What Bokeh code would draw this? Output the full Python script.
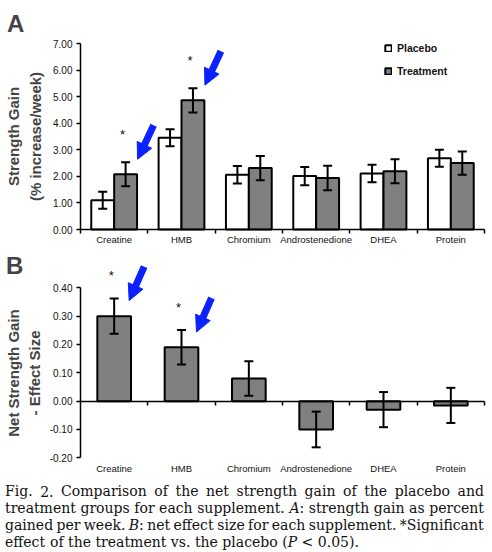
import glob
import os
import re
import struct

import numpy as np
from bokeh.plotting import figure
from bokeh.models import (ColumnDataSource, Range1d, FixedTicker, Whisker, TeeHead,
                          Arrow, NormalHead, Label, Legend, LegendItem, LinearAxis,
                          PrintfTickFormatter)
from bokeh.layouts import column
from bokeh.core.properties import value
from bokeh.embed import file_html
from bokeh.resources import INLINE

# ---------------- data ----------------
supplements = ["Creatine", "HMB", "Chromium", "Androstenedione", "DHEA", "Protein"]
placebo = [1.10, 3.45, 2.06, 2.01, 2.11, 2.68]
placebo_err = [0.32, 0.32, 0.33, 0.34, 0.33, 0.32]
treatment = [2.08, 4.86, 2.31, 1.94, 2.19, 2.50]
treatment_err = [0.45, 0.46, 0.46, 0.46, 0.45, 0.44]
effect_size = [0.30, 0.19, 0.08, -0.10, -0.03, -0.015]
effect_err = [0.062, 0.061, 0.061, 0.063, 0.062, 0.062]
significant = ["Creatine", "HMB"]
yA_ticks = [0, 1, 2, 3, 4, 5, 6, 7]
yB_ticks = [-0.2, -0.1, 0.0, 0.1, 0.2, 0.3, 0.4]
caption_lines = [
    "Fig. 2. Comparison of the net strength gain of the placebo and",
    "treatment groups for each supplement. {A}: strength gain as percent",
    "gained per week. {B}: net effect size for each supplement. *Significant",
    "effect of the treatment vs. the placebo ({P} < 0.05).",
]

# ---------------- style / geometry ----------------
SANS = "Liberation Sans"
SERIF = "DejaVu Serif"
BLUE = "#0b22ff"
GRAY = "#808080"
INK = "#111111"
W, H = 492, 552
A_H = 249
B_H = 475 - A_H
C_H = H - A_H - B_H
PLOT_L, PLOT_R = 80, 484

n = len(supplements)
centers = np.arange(n) + 0.5
bounds = np.arange(n + 1).astype(float)
sig_idx = [supplements.index(s) for s in significant]
xlabels = {float(c): s for c, s in zip(centers, supplements)}


def panel(height, y0, y1, top_px, bot_px):
    kx = n / (PLOT_R - PLOT_L)
    ky = (y1 - y0) / (bot_px - top_px)
    xr = Range1d(-PLOT_L * kx, n + (W - PLOT_R) * kx)
    yr = Range1d(y0 - (height - bot_px) * ky, y1 + top_px * ky)
    p = figure(width=W, height=height, x_range=xr, y_range=yr,
               output_backend="svg", toolbar_location=None, tools="",
               min_border=0, min_border_left=0, min_border_right=0,
               min_border_top=0, min_border_bottom=0,
               x_axis_type=None, y_axis_type=None, frame_align=False)
    p.outline_line_color = None
    p.background_fill_color = "white"
    p.border_fill_color = "white"

    def pos(px, py):
        return (px - PLOT_L) * kx, y0 + (bot_px - py) * ky
    return p, kx, ky, pos


def y_axis(p, ticks):
    ax = LinearAxis(fixed_location=0, bounds=(ticks[0], ticks[-1]),
                    ticker=FixedTicker(ticks=ticks),
                    formatter=PrintfTickFormatter(format="%.2f"),
                    major_label_text_font=SANS, major_label_text_font_size="10px",
                    major_label_text_color=INK, major_tick_out=4, major_tick_in=0,
                    major_tick_line_width=1.5, minor_tick_line_color=None,
                    axis_line_width=1.5, major_label_standoff=4)
    p.add_layout(ax, "left")


def label_axis(p, loc, line=True, minor=True, standoff=6):
    ax = LinearAxis(fixed_location=loc, bounds=(0, n),
                    ticker=FixedTicker(ticks=list(centers),
                                       minor_ticks=list(bounds) if minor else []),
                    major_label_overrides=xlabels,
                    major_label_text_font=SANS, major_label_text_font_size="9.5px",
                    major_label_text_color=INK, major_tick_out=0, major_tick_in=0,
                    minor_tick_out=4, minor_tick_in=0, minor_tick_line_width=1.5,
                    minor_tick_line_color="black" if minor else None,
                    axis_line_width=1.5,
                    axis_line_color="black" if line else None,
                    major_label_standoff=standoff)
    p.add_layout(ax, "below")


def tee():
    return TeeHead(size=9, line_width=2, line_color="black")


# ================= Panel A =================
yA0, yA1 = yA_ticks[0], yA_ticks[-1]
pA, kxA, kyA, a_pos = panel(A_H, yA0, yA1, 43, 229)
bwA = 0.34
pl = np.array(placebo)
ple = np.array(placebo_err)
tr = np.array(treatment)
tre = np.array(treatment_err)
srcA = ColumnDataSource(dict(
    xp=centers - bwA / 2, xt=centers + bwA / 2,
    placebo=pl, treatment=tr,
    p_hi=pl + ple, p_lo=pl - ple, t_hi=tr + tre, t_lo=tr - tre,
))
rP = pA.vbar(x="xp", top="placebo", bottom=0, width=bwA, source=srcA,
             fill_color="white", line_color="black", line_width=2)
rT = pA.vbar(x="xt", top="treatment", bottom=0, width=bwA, source=srcA,
             fill_color=GRAY, line_color="black", line_width=2)
for base, up, lo in (("xp", "p_hi", "p_lo"), ("xt", "t_hi", "t_lo")):
    pA.add_layout(Whisker(base=base, upper=up, lower=lo, source=srcA, level="overlay",
                          line_color="black", line_width=2,
                          upper_head=tee(), lower_head=tee()))
y_axis(pA, yA_ticks)
label_axis(pA, 0, line=True, minor=True, standoff=0)

sx = centers[sig_idx] + bwA / 2
sy = (tr + tre)[sig_idx]
pA.text(x=sx - 3 * kxA, y=sy + 28 * kyA, text=["*"] * len(sig_idx),
        text_font=value(SANS), text_font_size="13px", text_align="center",
        text_baseline="alphabetic", text_color=INK)
for x0, y0 in zip(sx, sy):
    tx, ty = x0 + 12 * kxA, y0 + 3 * kyA
    pA.add_layout(Arrow(x_start=tx + 16 * kxA, y_start=ty + 34 * kyA, x_end=tx, y_end=ty,
                        line_color=BLUE, line_width=7,
                        end=NormalHead(size=16, fill_color=BLUE, line_color=BLUE, line_width=1)))

legend = Legend(items=[LegendItem(label="Placebo", renderers=[rP]),
                       LegendItem(label="Treatment", renderers=[rT])],
                location=(384, A_H - 77), orientation="vertical",
                glyph_width=8, glyph_height=8, label_height=12, label_width=40,
                spacing=11, padding=0, margin=0, label_standoff=5,
                label_text_font=SANS, label_text_font_style="bold",
                label_text_font_size="10.5px", label_text_color=INK,
                border_line_color=None, background_fill_alpha=0)
pA.add_layout(legend, "center")

lx, ly = a_pos(6.5, 23)
pA.add_layout(Label(x=lx, y=ly, text="A", text_font=SANS, text_font_style="bold",
                    text_font_size="24px", text_align="left", text_baseline="alphabetic"))
for txt, px in (("Strength Gain", 12.8), ("(% increase/week)", 35.2)):
    tx, ty = a_pos(px, 136)
    pA.add_layout(Label(x=tx, y=ty, text=txt, angle=np.pi / 2, text_font=SANS,
                        text_font_style="bold", text_font_size="15px",
                        text_align="center", text_baseline="middle"))

# ================= Panel B =================
yB0, yB1 = yB_ticks[0], yB_ticks[-1]
pB, kxB, kyB, b_pos = panel(B_H, yB0, yB1, 287.3 - A_H, 457.3 - A_H)
es = np.array(effect_size)
ee = np.array(effect_err)
srcB = ColumnDataSource(dict(x=centers, es=es, hi=es + ee, lo=es - ee))
pB.vbar(x="x", top="es", bottom=0, width=0.5, source=srcB,
        fill_color=GRAY, line_color="black", line_width=2)
pB.add_layout(Whisker(base="x", upper="hi", lower="lo", source=srcB, level="overlay",
                      line_color="black", line_width=2,
                      upper_head=tee(), lower_head=tee()))
y_axis(pB, yB_ticks)
zero_axis = LinearAxis(fixed_location=0, bounds=(0, n),
                       ticker=FixedTicker(ticks=[], minor_ticks=list(bounds[1:])),
                       major_label_text_font_size="0px", major_tick_line_color=None,
                       minor_tick_out=4, minor_tick_in=0, minor_tick_line_width=1.5,
                       axis_line_width=1.5)
pB.add_layout(zero_axis, "below")
label_axis(pB, yB0, line=False, minor=False, standoff=5)

bsx = centers[sig_idx]
bsy = (es + ee)[sig_idx]
pB.text(x=bsx - 3 * kxB, y=bsy + 23 * kyB, text=["*"] * len(sig_idx),
        text_font=value(SANS), text_font_size="13px", text_align="center",
        text_baseline="alphabetic", text_color=INK)
for x0, y0 in zip(bsx, bsy):
    tx, ty = x0 + 15 * kxB, y0 - 2 * kyB
    pB.add_layout(Arrow(x_start=tx + 15 * kxB, y_start=ty + 34 * kyB, x_end=tx, y_end=ty,
                        line_color=BLUE, line_width=7,
                        end=NormalHead(size=16, fill_color=BLUE, line_color=BLUE, line_width=1)))

lx, ly = b_pos(5.5, 264.5 - A_H)
pB.add_layout(Label(x=lx, y=ly, text="B", text_font=SANS, text_font_style="bold",
                    text_font_size="24px", text_align="left", text_baseline="alphabetic"))
for txt, px in (("Net Strength Gain", 13.1), ("- Effect Size", 34.0)):
    tx, ty = b_pos(px, 372.5 - A_H)
    pB.add_layout(Label(x=tx, y=ty, text=txt, angle=np.pi / 2, text_font=SANS,
                        text_font_style="bold", text_font_size="15px",
                        text_align="center", text_baseline="middle"))


# ================= Caption (justified, measured with the font's own metrics) =================
def find_font(names):
    for root in ("/usr/share/fonts", "/usr/local/share/fonts",
                 os.path.expanduser("~/.fonts"), os.path.expanduser("~/.local/share/fonts")):
        for name in names:
            hits = glob.glob(os.path.join(root, "**", name), recursive=True)
            if hits:
                return hits[0]
    return None


def load_widths(path):
    try:
        data = open(path, "rb").read()
        num = struct.unpack(">H", data[4:6])[0]
        tables = {}
        for i in range(num):
            tag, _, off, ln = struct.unpack(">4sIII", data[12 + 16 * i:28 + 16 * i])
            tables[tag.decode("latin1")] = off
        head = tables["head"]
        upem = struct.unpack(">H", data[head + 18:head + 20])[0]
        hhea = tables["hhea"]
        nhm = struct.unpack(">H", data[hhea + 34:hhea + 36])[0]
        hmtx = tables["hmtx"]
        adv = [struct.unpack(">H", data[hmtx + 4 * i:hmtx + 4 * i + 2])[0] for i in range(nhm)]
        cm = tables["cmap"]
        nsub = struct.unpack(">H", data[cm + 2:cm + 4])[0]
        sub = None
        for i in range(nsub):
            pid, eid, off = struct.unpack(">HHI", data[cm + 4 + 8 * i:cm + 12 + 8 * i])
            if struct.unpack(">H", data[cm + off:cm + off + 2])[0] == 4:
                sub = cm + off
                break
        segx2 = struct.unpack(">H", data[sub + 6:sub + 8])[0]
        seg = segx2 // 2
        e_off = sub + 14
        s_off = e_off + segx2 + 2
        d_off = s_off + segx2
        r_off = d_off + segx2
        ends = struct.unpack(">%dH" % seg, data[e_off:e_off + segx2])
        starts = struct.unpack(">%dH" % seg, data[s_off:s_off + segx2])
        deltas = struct.unpack(">%dh" % seg, data[d_off:d_off + segx2])
        ros = struct.unpack(">%dH" % seg, data[r_off:r_off + segx2])

        def gid(ch):
            c = ord(ch)
            for i in range(seg):
                if ends[i] >= c:
                    if starts[i] > c:
                        return 0
                    if ros[i] == 0:
                        return (c + deltas[i]) & 0xFFFF
                    addr = r_off + 2 * i + ros[i] + 2 * (c - starts[i])
                    g = struct.unpack(">H", data[addr:addr + 2])[0]
                    return (g + deltas[i]) & 0xFFFF if g else 0
            return 0

        def width(s, size):
            return sum(adv[min(gid(ch), nhm - 1)] for ch in s) * size / upem
        return width
    except Exception:
        return None


def fallback_width(s, size):
    return 0.56 * size * len(s)


reg_path = find_font(["DejaVuSerif.ttf"])
ita_path = find_font(["DejaVuSerif-Italic.ttf"])
w_reg = (load_widths(reg_path) if reg_path else None) or fallback_width
w_ita = (load_widths(ita_path) if ita_path else None) or w_reg


def runs_of(word):
    out = []
    for part in re.split(r"(\{[^}]*\})", word):
        if not part:
            continue
        if part.startswith("{"):
            out.append((part[1:-1], True))
        else:
            out.append((part, False))
    return out


def run_w(r, size):
    txt, ital = r
    return (w_ita if ital else w_reg)(txt, size)


def word_w(word, size):
    return sum(run_w(r, size) for r in runs_of(word))


CAP_L, CAP_R = 4.5, 483.5
last = caption_lines[-1].split(" ")
nat1 = sum(word_w(w, 1.0) for w in last) + w_reg(" ", 1.0) * (len(last) - 1)
fsize = float(np.clip(354.0 / nat1, 12.5, 16.5))

pC = figure(width=W, height=C_H, x_range=Range1d(0, W), y_range=Range1d(C_H, 0),
            output_backend="svg", toolbar_location=None, tools="",
            min_border=0, min_border_left=0, min_border_right=0,
            min_border_top=0, min_border_bottom=0,
            x_axis_type=None, y_axis_type=None, frame_align=False)
pC.outline_line_color = None
pC.border_fill_color = "white"
baselines = [15.5, 32.5, 49.5, 66.5]
for li, line in enumerate(caption_lines):
    words = line.split(" ")
    ws = [word_w(w, fsize) for w in words]
    if li < len(caption_lines) - 1 and len(words) > 1:
        gap = (CAP_R - CAP_L - sum(ws)) / (len(words) - 1)
    else:
        gap = w_reg(" ", fsize)
    cur = CAP_L
    for w, ww in zip(words, ws):
        x = cur
        for r in runs_of(w):
            pC.add_layout(Label(x=x, y=baselines[li], text=r[0], text_font=SERIF,
                                text_font_style="italic" if r[1] else "normal",
                                text_font_size="%.2fpx" % fsize, text_color=INK,
                                text_align="left", text_baseline="alphabetic"))
            x += run_w(r, fsize)
        cur += ww + gap

layout = column(pA, pB, pC, spacing=0)
open("out.html", "w").write(file_html(layout, INLINE))
